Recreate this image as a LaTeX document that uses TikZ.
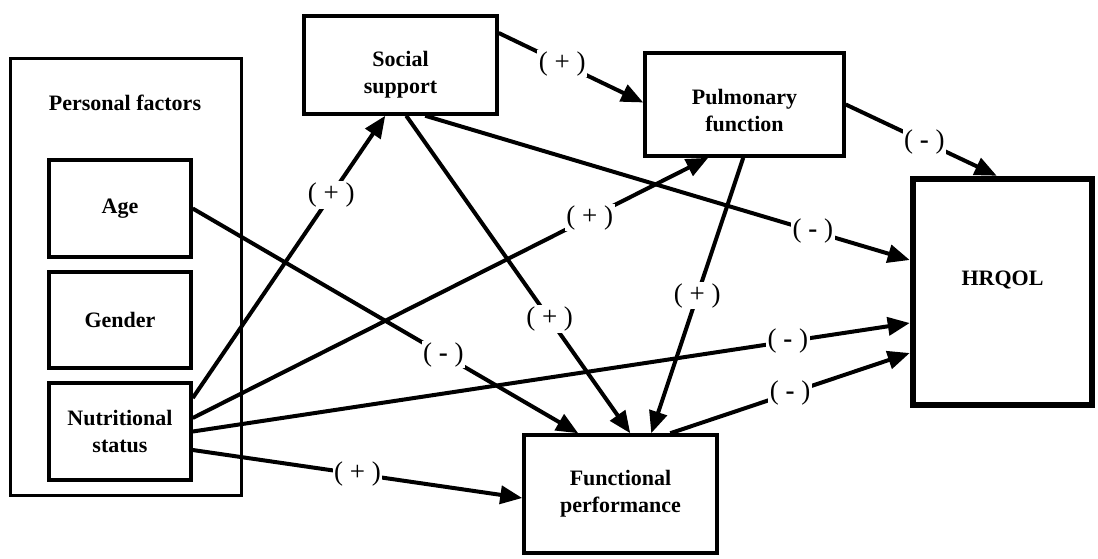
\documentclass[tikz,border=0pt]{standalone}
\usepackage{fontspec}
\setmainfont{Liberation Serif}
\usetikzlibrary{arrows.meta,calc}
\begin{document}
\begin{tikzpicture}[x=1pt,y=-1pt,
  box/.style={draw,line width=3.5pt,inner sep=0pt,rectangle},
  boxtext/.style={font=\fontsize{22}{27}\selectfont\bfseries,align=center},
  link/.style={line width=4pt,-{Triangle[length=22pt,width=18pt]}},
  sign/.style={fill=white,inner sep=1.5pt,font=\fontsize{27}{27}\selectfont}]
\useasboundingbox (0,0) rectangle (1098,558);

% personal factors group
\node[box,line width=3pt,minimum width=231pt,minimum height=437pt] (pf) at (125.5,276.5) {};
\node[boxtext] (pflab) at (125,103) {Personal factors};
\node[box,minimum width=142pt,minimum height=97pt] (age) at (120,208.5) {};
\node[boxtext] at (age.center) {Age};
\node[box,minimum width=142pt,minimum height=96pt] (gen) at (120,320) {};
\node[boxtext] at (gen.center) {Gender};
\node[box,minimum width=142pt,minimum height=97pt] (nut) at (120,431.5) {};
\node[boxtext] at (nut.center) {Nutritional\\status};

% mediators and outcome
\node[box,minimum width=193pt,minimum height=98pt] (ss) at (400.5,65) {};
\node[boxtext] at ([yshift=-10pt]ss.center) {Social\\support};
\node[box,minimum width=199pt,minimum height=103pt] (pul) at (744.5,104.5) {};
\node[boxtext] at ([yshift=-6pt]pul.center) {Pulmonary\\function};
\node[box,minimum width=193pt,minimum height=118pt] (fp) at (620.5,494) {};
\node[boxtext] at (fp.center) {Functional\\performance};
\node[box,line width=6.5pt,minimum width=179pt,minimum height=226pt] (hrq) at (1002.5,292) {};
\node[boxtext] at ([yshift=12pt]hrq.center) {HRQOL};

% paths
\draw[link] ([yshift=32pt]ss.east) -- node[sign,pos=0.44] {( + )} ([yshift=2pt]pul.west);
\draw[link] ([yshift=33.5pt]nut.east) -- node[sign,pos=0.72] {( + )} ([xshift=83pt]ss.south west);
\draw[link] ([xshift=104pt]ss.south west) -- node[sign,pos=0.64] {( + )} ([xshift=108pt]fp.north west);
\draw[link] ([xshift=123pt]ss.south west) -- node[sign,pos=0.8] {( \textbf{-} )} ([yshift=32pt]hrq.west);
\draw[link] ([yshift=13.5pt]nut.east) -- node[sign,pos=0.77] {( + )} ([xshift=65pt]pul.south west);
\draw[link] ([xshift=100pt]pul.south west) -- node[sign,pos=0.5] {( + )} ([xshift=129pt]fp.north west);
\draw[link] (pul.east) -- node[sign,pos=0.52] {( \textbf{-} )} ([xshift=87pt]hrq.north west);
\draw[link] (nut.east) -- node[sign,pos=0.83] {( \textbf{-} )} ([yshift=-31pt]hrq.west);
\draw[link] ([xshift=148pt]fp.north west) -- node[sign,pos=0.5] {( \textbf{-} )} ([yshift=-61pt]hrq.west);
\draw[link] (age.east) -- node[sign,pos=0.65] {( \textbf{-} )} ([xshift=56pt]fp.north west);
\draw[link] ([yshift=-18.5pt]nut.east) -- node[sign,pos=0.5] {( + )} ([yshift=-4pt]fp.west);
\end{tikzpicture}
\end{document}
